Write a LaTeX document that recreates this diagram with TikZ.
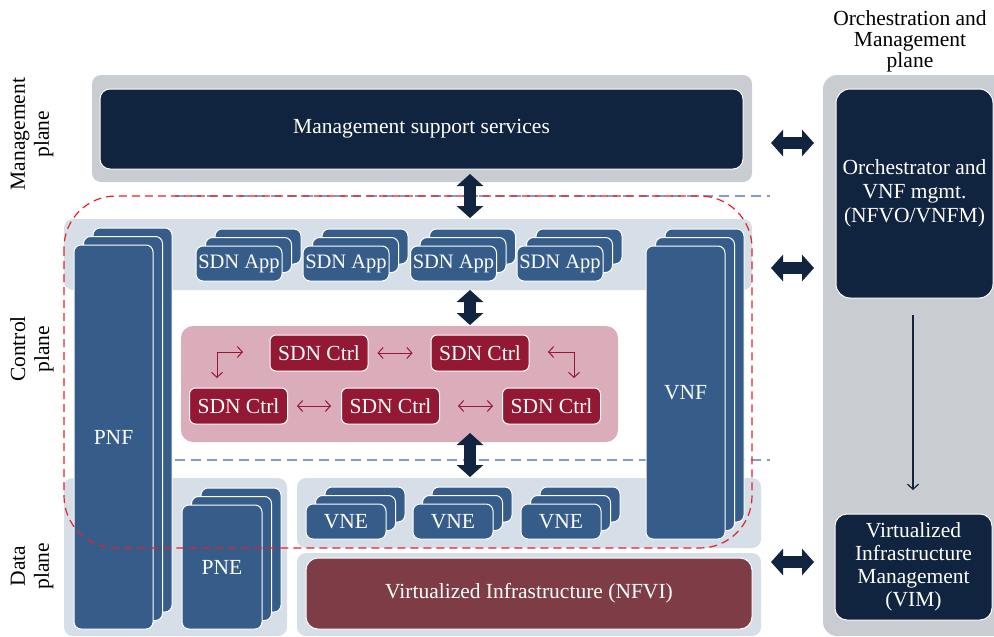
\documentclass[tikz,border=0pt]{standalone}
\usepackage{fontspec}
\setmainfont{Liberation Serif}
\usetikzlibrary{arrows.meta}
\definecolor{navy}{HTML}{10233F}
\definecolor{midblue}{HTML}{365D8A}
\definecolor{lightbg}{HTML}{D6DEE7}
\definecolor{graybg}{HTML}{C9CCD1}
\definecolor{pinkbg}{HTML}{DBADBA}
\definecolor{crimson}{HTML}{921834}
\definecolor{maroon}{HTML}{7E3C47}
\definecolor{dashblue}{HTML}{7E9FCC}
\definecolor{dashred}{HTML}{E8202A}
\newcommand\fs{\fontsize{21.5}{24}\selectfont}
\newcommand\fsapp{\fontsize{20.5}{23}\selectfont}
\newcommand\mystack[7]{%
  \node[bluebox, minimum width=#4, minimum height=#5] (#1c) at (#2+19,#3-17) {};
  \node[bluebox, minimum width=#4, minimum height=#5] (#1b) at (#2+9.5,#3-8.5) {};
  \node[bluebox, minimum width=#4, minimum height=#5, #7] (#1) at (#2,#3) {#6};
}
\tikzset{
  bg/.style={inner sep=0pt, rounded corners=9pt},
  bluebox/.style={fill=midblue, draw=white, line width=1pt, rounded corners=7pt, inner sep=0pt, text=white, font=\fs},
  navybox/.style={fill=navy, draw=white, line width=1pt, rounded corners=10pt, inner sep=0pt, text=white, font=\fs, align=center},
  crimbox/.style={fill=crimson, draw=white, line width=1pt, rounded corners=6pt, inner sep=0pt, text=white, font=\fs, minimum width=98pt, minimum height=36pt},
  fat/.style={draw=navy, line width=12pt, arrows={Triangle[length=12pt,width=26pt]-Triangle[length=12pt,width=26pt]}},
  thinred/.style={draw=crimson, line width=1pt, arrows={Straight Barb[length=5pt,width=11pt]-Straight Barb[length=5pt,width=11pt]}},
  reddash/.style={draw=dashred, line width=1.2pt, dash pattern=on 8pt off 5pt},
  bluedash/.style={draw=dashblue, line width=1.5pt, dash pattern=on 10pt off 6pt},
  lbl/.style={font=\fs, align=center, text=black}
}
\begin{document}
\begin{tikzpicture}[x=1pt,y=-1pt]
\useasboundingbox (0,0) rectangle (994,637);
\clip (0,0) rectangle (994,637);
% backgrounds
\node[bg, fill=graybg, minimum width=660pt, minimum height=107pt] (mgbg) at (422,128.5) {};
\node[bg, fill=graybg, minimum width=187pt, minimum height=561pt, rounded corners=14pt] (orbg) at (916.5,355.5) {};
\node[bg, fill=lightbg, minimum width=688pt, minimum height=71pt] (ctrlbg) at (408,254.5) {};
\node[bg, fill=lightbg, minimum width=223pt, minimum height=158pt] (dleft) at (175.5,557) {};
\node[bg, fill=lightbg, minimum width=464pt, minimum height=70pt] (dright) at (529,513) {};
\node[bg, fill=lightbg, minimum width=464pt, minimum height=83pt] (nfvibg) at (529,594.5) {};
\node[bg, fill=pinkbg, minimum width=437pt, minimum height=116pt, rounded corners=12pt] (pink) at (399.5,384) {};
% dashed plane separators
\draw[bluedash] (175,196) -- (770,196);
\draw[bluedash] (175,460) -- (770,460);
% main boxes
\node[navybox, minimum width=643pt, minimum height=80pt] (mss) at (421.5,129) {Management support services};
\node[navybox, minimum width=157pt, minimum height=209pt, rounded corners=14pt] (orch) at (914.5,193.5) {Orchestrator and\\VNF mgmt.\\(NFVO/VNFM)};
\node[navybox, minimum width=157pt, minimum height=106pt, rounded corners=12pt, font=\fontsize{21.5}{23}\selectfont] (vim) at (913.5,567) {Virtualized\\Infrastructure\\Management\\(VIM)};
\node[navybox, fill=maroon, minimum width=446pt, minimum height=71pt, rounded corners=12pt] (nfvi) at (529,593.5) {Virtualized Infrastructure (NFVI)};
% stacks
\mystack{pnf}{113.5}{437}{79pt}{384pt}{\raisebox{-5pt}{PNF}}{}
\mystack{vnf}{685.5}{392.5}{79pt}{293pt}{VNF}{}
\mystack{pne}{222}{567}{80pt}{124pt}{PNE}{}
\mystack{appa}{239}{263.5}{86pt}{35pt}{SDN App}{font=\fsapp}
\mystack{appb}{346}{263.5}{86pt}{35pt}{SDN App}{font=\fsapp}
\mystack{appc}{453.5}{263.5}{86pt}{35pt}{SDN App}{font=\fsapp}
\mystack{appd}{560}{263.5}{86pt}{35pt}{SDN App}{font=\fsapp}
\mystack{vnea}{346}{521.5}{80pt}{35pt}{VNE}{}
\mystack{vneb}{453}{521.5}{80pt}{35pt}{VNE}{}
\mystack{vnec}{561}{521.5}{80pt}{35pt}{VNE}{}
% SDN controllers
\node[crimbox] (c1) at (319,353) {SDN Ctrl};
\node[crimbox] (c2) at (480,353) {SDN Ctrl};
\node[crimbox] (c3) at (238.5,406) {SDN Ctrl};
\node[crimbox] (c4) at (390.5,406) {SDN Ctrl};
\node[crimbox] (c5) at (551.5,406) {SDN Ctrl};
\draw[thinred, shorten <=9pt, shorten >=18pt] (c1.east) -- (c2.west);
\draw[thinred, shorten <=9pt, shorten >=10pt] (c3.east) -- (c4.west);
\draw[thinred, shorten <=18pt, shorten >=9pt] (c4.east) -- (c5.west);
\coordinate (e1a) at (217,378);
\coordinate (e1b) at (243,352);
\coordinate (e2a) at (548,352);
\coordinate (e2b) at (574,378);
\draw[thinred] (e1a) |- (e1b);
\draw[thinred] (e2a) -| (e2b);
% red dashed region
\draw[reddash, rounded corners=52pt] (64,196) rectangle (752,548);
% thin down arrow
\coordinate (da) at (913,315);
\coordinate (db) at (913,490);
\draw[draw=navy, line width=1.2pt, -{Straight Barb[length=5pt,width=11pt]}] (da) -- (db);
% fat arrows
\coordinate (h1a) at (771,143); \coordinate (h1b) at (814,143);
\coordinate (h2a) at (771,268); \coordinate (h2b) at (814,268);
\coordinate (h3a) at (771,562); \coordinate (h3b) at (814,562);
\coordinate (v1a) at (470,174); \coordinate (v1b) at (470,218);
\coordinate (v2a) at (470,290); \coordinate (v2b) at (470,325);
\coordinate (v3a) at (470,433); \coordinate (v3b) at (470,477);
\draw[fat] (h1a) -- (h1b);
\draw[fat] (h2a) -- (h2b);
\draw[fat] (h3a) -- (h3b);
\draw[fat] (v1a) -- (v1b);
\draw[fat] (v2a) -- (v2b);
\draw[fat] (v3a) -- (v3b);
% labels
\node[lbl, rotate=90] (lmg) at (32,134) {Management\\plane};
\node[lbl, rotate=90] (lcp) at (32,349) {Control\\plane};
\node[lbl, rotate=90] (ldp) at (32,566) {Data\\plane};
\node[lbl, font=\fontsize{21.5}{21}\selectfont] (lorch) at (910,41) {Orchestration and\\Management\\plane};
\end{tikzpicture}
\end{document}
